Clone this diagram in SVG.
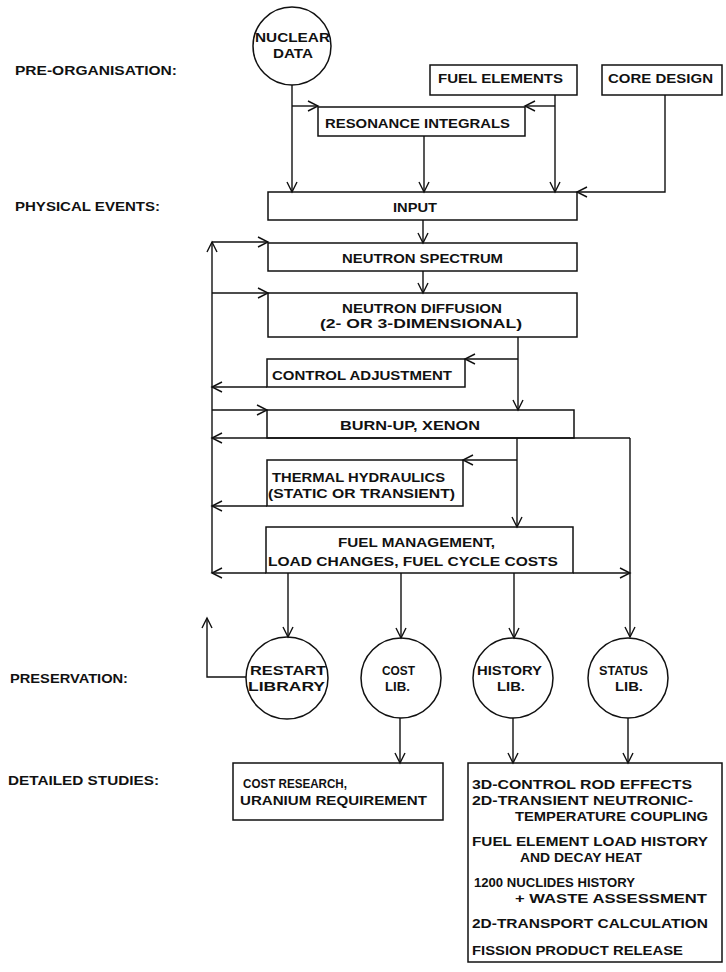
<svg xmlns="http://www.w3.org/2000/svg" width="726" height="972" viewBox="0 0 726 972">
<defs>
<style>
.t{font-family:"Liberation Sans",Arial,sans-serif;font-weight:bold;font-size:13px;fill:#111;}
.b{fill:none;stroke:#111;stroke-width:1.5;}
.c{fill:none;stroke:#111;stroke-width:1.4;}
</style>
<marker id="a" markerUnits="userSpaceOnUse" markerWidth="14" markerHeight="14" refX="11" refY="6" orient="auto" overflow="visible">
<path d="M1,1 L11,6 L1,11" fill="none" stroke="#111" stroke-width="1.4"/>
</marker>
</defs>
<rect width="726" height="972" fill="#fff"/>

<g id="labels">
<text class="t" x="15" y="75" textLength="162" lengthAdjust="spacingAndGlyphs">PRE-ORGANISATION:</text>
<text class="t" x="15" y="211" textLength="145" lengthAdjust="spacingAndGlyphs">PHYSICAL EVENTS:</text>
<text class="t" x="10" y="683" textLength="118" lengthAdjust="spacingAndGlyphs">PRESERVATION:</text>
<text class="t" x="8" y="785" textLength="151" lengthAdjust="spacingAndGlyphs">DETAILED STUDIES:</text>
</g>

<g id="connectors" class="c">
<path d="M292,85 V192" marker-end="url(#a)"/>
<path d="M292,106 H318" marker-end="url(#a)"/>
<path d="M555,95 V192" marker-end="url(#a)"/>
<path d="M555,106 H525" marker-end="url(#a)"/>
<path d="M424,136 V192" marker-end="url(#a)"/>
<path d="M665,95 V192 H577" marker-end="url(#a)"/>
<path d="M423,220 V243" marker-end="url(#a)"/>
<path d="M423,271 V293" marker-end="url(#a)"/>
<path d="M518,337 V410" marker-end="url(#a)"/>
<path d="M518,359 H465" marker-end="url(#a)"/>
<path d="M267,387 H212" marker-end="url(#a)"/>
<path d="M212,573 V242" marker-end="url(#a)"/>
<path d="M212,242 H268" marker-end="url(#a)"/>
<path d="M212,293 H268" marker-end="url(#a)"/>
<path d="M212,410 H267" marker-end="url(#a)"/>
<path d="M630,438 H212" marker-end="url(#a)"/>
<path d="M630,438 V637" marker-end="url(#a)"/>
<path d="M517,438 V527" marker-end="url(#a)"/>
<path d="M517,460 H463" marker-end="url(#a)"/>
<path d="M267,506 H212" marker-end="url(#a)"/>
<path d="M266,573 H212" marker-end="url(#a)"/>
<path d="M573,573 H630" marker-end="url(#a)"/>
<path d="M288,573 V637" marker-end="url(#a)"/>
<path d="M401,573 V638" marker-end="url(#a)"/>
<path d="M514,573 V638" marker-end="url(#a)"/>
<path d="M246,677 H207 V618" marker-end="url(#a)"/>
<path d="M400,718 V763" marker-end="url(#a)"/>
<path d="M513,718 V763" marker-end="url(#a)"/>
<path d="M628,718 V763" marker-end="url(#a)"/>
</g>

<g id="nuclear-data">
<circle class="b" cx="292" cy="46" r="39"/>
<text class="t" x="255" y="42" textLength="75" lengthAdjust="spacingAndGlyphs">NUCLEAR</text>
<text class="t" x="273" y="58" textLength="40" lengthAdjust="spacingAndGlyphs">DATA</text>
</g>
<g id="fuel-elements">
<rect class="b" x="430" y="65" width="147" height="30"/>
<text class="t" x="438" y="83" textLength="125" lengthAdjust="spacingAndGlyphs">FUEL ELEMENTS</text>
</g>
<g id="core-design">
<rect class="b" x="602" y="65" width="120" height="30"/>
<text class="t" x="608" y="83" textLength="105" lengthAdjust="spacingAndGlyphs">CORE DESIGN</text>
</g>
<g id="resonance-integrals">
<rect class="b" x="318" y="107" width="207" height="29"/>
<text class="t" x="325" y="128" textLength="185" lengthAdjust="spacingAndGlyphs">RESONANCE INTEGRALS</text>
</g>
<g id="input">
<rect class="b" x="268" y="192" width="309" height="28"/>
<text class="t" x="393" y="212" textLength="44" lengthAdjust="spacingAndGlyphs">INPUT</text>
</g>
<g id="neutron-spectrum">
<rect class="b" x="268" y="243" width="309" height="28"/>
<text class="t" x="342" y="263" textLength="161" lengthAdjust="spacingAndGlyphs">NEUTRON SPECTRUM</text>
</g>
<g id="neutron-diffusion">
<rect class="b" x="268" y="293" width="309" height="44"/>
<text class="t" x="342" y="313" textLength="160" lengthAdjust="spacingAndGlyphs">NEUTRON DIFFUSION</text>
<text class="t" x="320" y="328" textLength="202" lengthAdjust="spacingAndGlyphs">(2- OR 3-DIMENSIONAL)</text>
</g>
<g id="control-adjustment">
<rect class="b" x="267" y="359" width="198" height="28"/>
<text class="t" x="272" y="380" textLength="180" lengthAdjust="spacingAndGlyphs">CONTROL ADJUSTMENT</text>
</g>
<g id="burn-up">
<rect class="b" x="267" y="410" width="307" height="28"/>
<text class="t" x="340" y="430" textLength="140" lengthAdjust="spacingAndGlyphs">BURN-UP, XENON</text>
</g>
<g id="thermal-hydraulics">
<rect class="b" x="267" y="460" width="196" height="46"/>
<text class="t" x="272" y="482" textLength="173" lengthAdjust="spacingAndGlyphs">THERMAL HYDRAULICS</text>
<text class="t" x="268" y="498" textLength="187" lengthAdjust="spacingAndGlyphs">(STATIC OR TRANSIENT)</text>
</g>
<g id="fuel-management">
<rect class="b" x="266" y="527" width="307" height="46"/>
<text class="t" x="338" y="547" textLength="157" lengthAdjust="spacingAndGlyphs">FUEL MANAGEMENT,</text>
<text class="t" x="268" y="566" textLength="290" lengthAdjust="spacingAndGlyphs">LOAD CHANGES, FUEL CYCLE COSTS</text>
</g>
<g id="restart-library">
<circle class="b" cx="287" cy="678" r="41"/>
<text class="t" x="250" y="675" textLength="76" lengthAdjust="spacingAndGlyphs">RESTART</text>
<text class="t" x="248" y="691" textLength="77" lengthAdjust="spacingAndGlyphs">LIBRARY</text>
</g>
<g id="cost-lib">
<circle class="b" cx="401" cy="678" r="40"/>
<text class="t" x="382" y="675" textLength="33" lengthAdjust="spacingAndGlyphs">COST</text>
<text class="t" x="385" y="691" textLength="25" lengthAdjust="spacingAndGlyphs">LIB.</text>
</g>
<g id="history-lib">
<circle class="b" cx="513" cy="678" r="40"/>
<text class="t" x="477" y="675" textLength="65" lengthAdjust="spacingAndGlyphs">HISTORY</text>
<text class="t" x="497" y="691" textLength="28" lengthAdjust="spacingAndGlyphs">LIB.</text>
</g>
<g id="status-lib">
<circle class="b" cx="628" cy="678" r="40"/>
<text class="t" x="599" y="675" textLength="49" lengthAdjust="spacingAndGlyphs">STATUS</text>
<text class="t" x="615" y="691" textLength="28" lengthAdjust="spacingAndGlyphs">LIB.</text>
</g>
<g id="cost-research">
<rect class="b" x="233" y="763" width="210" height="57"/>
<text class="t" x="243" y="788" textLength="104" lengthAdjust="spacingAndGlyphs">COST RESEARCH,</text>
<text class="t" x="240" y="805" textLength="187" lengthAdjust="spacingAndGlyphs">URANIUM REQUIREMENT</text>
</g>
<g id="detailed-studies">
<rect class="b" x="468" y="763" width="254" height="199"/>
<text class="t" x="472" y="789" textLength="220" lengthAdjust="spacingAndGlyphs">3D-CONTROL ROD EFFECTS</text>
<text class="t" x="472" y="805" textLength="221" lengthAdjust="spacingAndGlyphs">2D-TRANSIENT NEUTRONIC-</text>
<text class="t" x="515" y="821" textLength="193" lengthAdjust="spacingAndGlyphs">TEMPERATURE COUPLING</text>
<text class="t" x="472" y="846" textLength="236" lengthAdjust="spacingAndGlyphs">FUEL ELEMENT LOAD HISTORY</text>
<text class="t" x="520" y="862" textLength="122" lengthAdjust="spacingAndGlyphs">AND DECAY HEAT</text>
<text class="t" x="474" y="887" textLength="161" lengthAdjust="spacingAndGlyphs">1200 NUCLIDES HISTORY</text>
<text class="t" x="515" y="903" textLength="192" lengthAdjust="spacingAndGlyphs">+ WASTE ASSESSMENT</text>
<text class="t" x="472" y="928" textLength="236" lengthAdjust="spacingAndGlyphs">2D-TRANSPORT CALCULATION</text>
<text class="t" x="472" y="955" textLength="211" lengthAdjust="spacingAndGlyphs">FISSION PRODUCT RELEASE</text>
</g>
</svg>
